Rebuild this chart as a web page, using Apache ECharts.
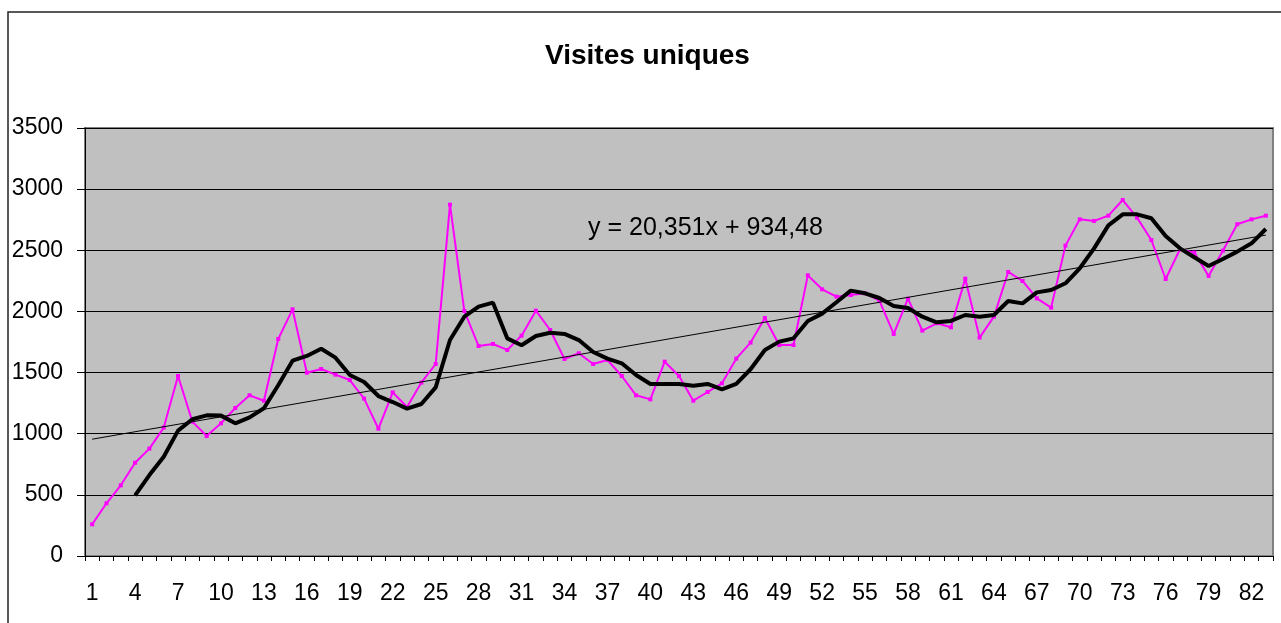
<!DOCTYPE html>
<html>
<head>
<meta charset="utf-8">
<script src="https://cdn.jsdelivr.net/npm/echarts@6/dist/echarts.min.js"></script>
<style>
  html, body { margin: 0; padding: 0; background: #fff; }
  #container { width: 1281px; height: 623px; }
</style>
</head>
<body>
<div id="container"></div>
<script>
    // jours 1..83
    var days = [];
    for (var i = 1; i <= 83; i++) days.push(String(i));

    // visites uniques (magenta)
    var visits = [259, 431, 578, 763, 878, 1050, 1472, 1099, 981, 1085,
        1210, 1314, 1270, 1775, 2017, 1499, 1529, 1483, 1439, 1287,
        1041, 1338, 1218, 1418, 1570, 2873, 2004, 1717, 1734, 1685,
        1802, 2006, 1848, 1611, 1658, 1570, 1603, 1472, 1314, 1281,
        1589, 1472, 1270, 1341, 1412, 1614, 1745, 1946, 1725, 1725,
        2295, 2181, 2121, 2134, 2148, 2088, 1816, 2104, 1843, 1903,
        1870, 2268, 1786, 1957, 2323, 2249, 2107, 2031, 2538, 2753,
        2740, 2783, 2911, 2767, 2584, 2265, 2508, 2481, 2290, 2497,
        2713, 2753, 2783];

    // moyenne mobile (noir epais)
    var average = [null, null, null, 496, 662, 812, 1025, 1118, 1150, 1148,
        1085, 1134, 1208, 1396, 1597, 1636, 1695, 1622, 1480, 1423,
        1308, 1259, 1205, 1243, 1379, 1766, 1957, 2039, 2072, 1780,
        1723, 1799, 1826, 1816, 1766, 1668, 1614, 1576, 1480, 1407,
        1407, 1407, 1393, 1407, 1363, 1407, 1527, 1685, 1753, 1780,
        1922, 1982, 2075, 2170, 2148, 2110, 2045, 2028, 1957, 1911,
        1922, 1971, 1957, 1971, 2085, 2066, 2156, 2175, 2230, 2353,
        2516, 2704, 2794, 2794, 2762, 2617, 2516, 2443, 2372, 2429,
        2489, 2557, 2674];

    // tendance lineaire : debut et fin
    var trendDays = ['1', '83'];
    var trendValues = [955, 2624];
    var trendLabel = 'y = 20,351x + 934,48';

    var font = 'Liberation Sans, Arial, sans-serif';
    var myChart = echarts.init(document.getElementById('container'));
    myChart.setOption({
        animation: false,
        title: {
            text: 'Visites uniques',
            left: 540,
            top: 37,
            textStyle: { fontFamily: font, fontSize: 28, fontWeight: 'bold', color: '#000' }
        },
        grid: {
            left: 85, right: 8, top: 128, bottom: 67,
            show: true,
            backgroundColor: '#c0c0c0',
            borderColor: '#808080',
            borderWidth: 2
        },
        xAxis: {
            type: 'category',
            data: days,
            boundaryGap: true,
            axisLine: { show: true, lineStyle: { color: '#000', width: 1 } },
            axisTick: { show: true, interval: 0, length: 5, lineStyle: { color: '#000', width: 1 } },
            axisLabel: { interval: 2, margin: 26, fontFamily: font, fontSize: 23, color: '#000' },
            splitLine: { show: false }
        },
        yAxis: {
            type: 'value',
            min: 0, max: 3500, interval: 500,
            axisLine: { show: true, lineStyle: { color: '#000', width: 1 } },
            axisTick: { show: true, length: 8, lineStyle: { color: '#000', width: 1 } },
            axisLabel: {
                margin: 22, fontFamily: font, fontSize: 23, color: '#000',
                formatter: function (v) { return String(v); }
            },
            splitLine: { lineStyle: { color: '#000', width: 1 } }
        },
        graphic: [
            {
                type: 'polyline',
                shape: { points: [[8, 700], [8, 12], [1300, 12]] },
                style: { stroke: '#222', lineWidth: 1.5, fill: null },
                silent: true
            },
            {
                type: 'text',
                left: 588, top: 216,
                style: { text: trendLabel, fontFamily: font, fontSize: 25, fill: '#000' },
                z: 10
            }
        ],
        series: [
            {
                name: 'Visites',
                type: 'line',
                data: visits,
                symbol: 'rect',
                symbolSize: 4,
                lineStyle: { color: '#ff00ff', width: 2 },
                itemStyle: { color: '#ff00ff' },
                z: 3
            },
            {
                name: 'Moyenne',
                type: 'line',
                data: average,
                showSymbol: false,
                lineStyle: { color: '#000', width: 4 },
                z: 4
            },
            {
                name: 'Tendance',
                type: 'line',
                data: trendDays.map(function (d, i) { return [d, trendValues[i]]; }),
                showSymbol: false,
                lineStyle: { color: '#000', width: 1 },
                z: 5
            }
        ]
    });
</script>
</body>
</html>
